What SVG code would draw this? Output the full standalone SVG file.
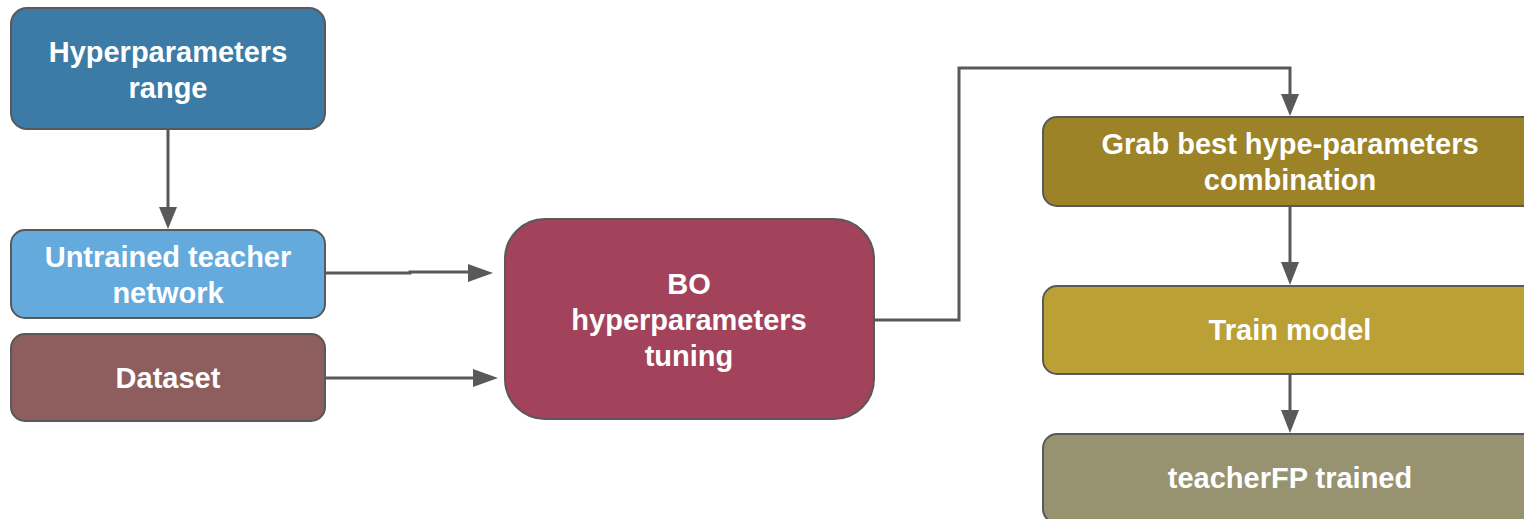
<svg xmlns="http://www.w3.org/2000/svg" width="1524" height="519" viewBox="0 0 1524 519">
<style>
.n{stroke:#595959;stroke-width:2}
.t{fill:#ffffff;font-family:"Liberation Sans",Arial,sans-serif;font-weight:bold;font-size:29px;text-anchor:middle}
.c{fill:none;stroke:#595959;stroke-width:3}
</style>
<rect width="1524" height="519" fill="#ffffff"/>
<g id="connectors">
<path class="c" d="M168,130 V210"/>
<path d="M159,207 L177,207 L168,229 Z" fill="#595959"/>
<path class="c" d="M326,273 H410 V272 H470"/>
<path d="M468,264 L493,273 L468,282 Z" fill="#595959"/>
<path class="c" d="M326,378 H475"/>
<path d="M473,369 L498,378 L473,387 Z" fill="#595959"/>
<path class="c" d="M875,320 H959 V68 H1290 V97"/>
<path d="M1281,94 L1299,94 L1290,116 Z" fill="#595959"/>
<path class="c" d="M1290,207 V265"/>
<path d="M1281,262 L1299,262 L1290,285 Z" fill="#595959"/>
<path class="c" d="M1290,375 V413"/>
<path d="M1281,410 L1299,410 L1290,433 Z" fill="#595959"/>
</g>
<g id="n-hyper">
<rect class="n" x="11" y="8" width="314" height="121" rx="16" fill="#3b7ba5"/>
<text class="t" x="168" y="62">Hyperparameters</text>
<text class="t" x="168" y="98">range</text>
</g>
<g id="n-untrained">
<rect class="n" x="11" y="230" width="314" height="88" rx="14" fill="#64aadc"/>
<text class="t" x="168" y="267">Untrained teacher</text>
<text class="t" x="168" y="303">network</text>
</g>
<g id="n-dataset">
<rect class="n" x="11" y="334" width="314" height="87" rx="14" fill="#8e5d5d"/>
<text class="t" x="168" y="388">Dataset</text>
</g>
<g id="n-bo">
<rect class="n" x="505" y="219" width="369" height="200" rx="40" fill="#a3435b"/>
<text class="t" x="689" y="294">BO</text>
<text class="t" x="689" y="330">hyperparameters</text>
<text class="t" x="689" y="366">tuning</text>
</g>
<g id="n-grab">
<rect class="n" x="1043" y="117" width="494" height="89" rx="14" fill="#9c8327"/>
<text class="t" x="1290" y="154">Grab best hype-parameters</text>
<text class="t" x="1290" y="190">combination</text>
</g>
<g id="n-train">
<rect class="n" x="1043" y="286" width="494" height="88" rx="14" fill="#bba036"/>
<text class="t" x="1290" y="340">Train model</text>
</g>
<g id="n-trained">
<rect class="n" x="1043" y="434" width="494" height="89" rx="14" fill="#979370"/>
<text class="t" x="1290" y="488">teacherFP trained</text>
</g>
</svg>
